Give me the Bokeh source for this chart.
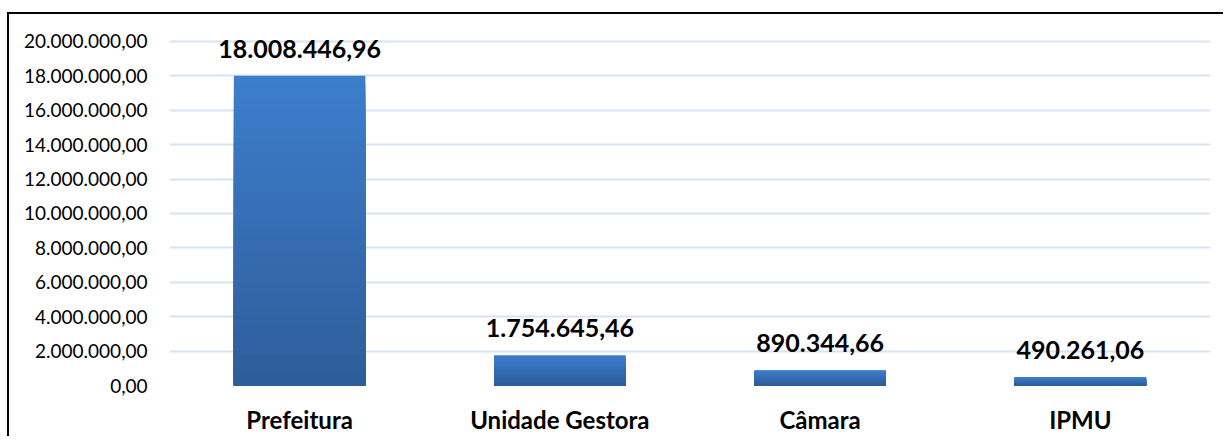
from bokeh.plotting import figure
from bokeh.models import ColumnDataSource, FixedTicker, Range1d
from bokeh.embed import file_html
from bokeh.resources import INLINE
from bokeh.core.properties import value

categories = ["Prefeitura", "Unidade Gestora", "Câmara", "IPMU"]
values = [18008446.96, 1754645.46, 890344.66, 490261.06]
y_ticks = [0, 2e6, 4e6, 6e6, 8e6, 10e6, 12e6, 14e6, 16e6, 18e6, 20e6]


def fmt_br(v):
    s = f"{v:,.2f}"
    return s.replace(",", "X").replace(".", ",").replace("X", ".")


FONT = "Lato"
TOP = (0x3D, 0x7E, 0xCC)
BOT = (0x2E, 0x5D, 0x9A)
N = 40

p = figure(x_range=categories, y_range=Range1d(0, 20.52e6),
           frame_width=1041, frame_height=353, output_backend="svg", toolbar_location=None,
           min_border_left=160, min_border_right=13, min_border_top=18, min_border_bottom=40)
p.styles = {"border-left": "2px solid black", "border-top": "2px solid black",
            "margin-top": "12px", "margin-left": "7px"}
p.outline_line_color = None
p.background_fill_color = "white"

# gradient bars: overlapping layers computed from each bar's value (full bar in top colour,
# then progressively shorter, darker layers on top)
xs, tops, colors = [], [], []
for c, v in zip(categories, values):
    for k in range(N):
        frac = 1 - k / N          # layer height fraction
        t = frac - 0.5 / N        # colour position (1 top, 0 bottom)
        col = tuple(int(round(BOT[i] + (TOP[i] - BOT[i]) * t)) for i in range(3))
        xs.append(c)
        tops.append(v * frac)
        colors.append("#%02x%02x%02x" % col)

src = ColumnDataSource(dict(x=xs, top=tops, color=colors))
p.vbar(x="x", bottom=0, top="top", width=0.505, fill_color="color", line_color=None, source=src)

lab = ColumnDataSource(dict(x=categories, y=values, t=[fmt_br(v) for v in values]))
p.text(x="x", y="y", text="t", source=lab, text_align="center", text_baseline="alphabetic",
       y_offset=-27, text_font=value(FONT), text_font_style="bold", text_font_size="25px",
       text_color="black")

p.yaxis.ticker = FixedTicker(ticks=y_ticks)
p.yaxis.major_label_overrides = {t: fmt_br(t) for t in y_ticks}
p.yaxis.axis_line_color = None
p.yaxis.major_tick_line_color = None
p.yaxis.minor_tick_line_color = None
p.yaxis.major_label_standoff = 16
p.yaxis.major_label_text_font = FONT
p.yaxis.major_label_text_font_size = "19px"
p.yaxis.major_label_text_color = "black"

p.xaxis.axis_line_color = None
p.xaxis.major_tick_line_color = None
p.xaxis.major_label_standoff = 13
p.xaxis.major_label_text_font = FONT
p.xaxis.major_label_text_font_style = "bold"
p.xaxis.major_label_text_font_size = "24px"
p.xaxis.major_label_text_color = "black"

p.xgrid.grid_line_color = None
p.ygrid.grid_line_color = "#d8e3f3"
p.ygrid.grid_line_width = 2
p.x_range.range_padding = 0

open("out.html", "w").write(file_html(p, INLINE))
